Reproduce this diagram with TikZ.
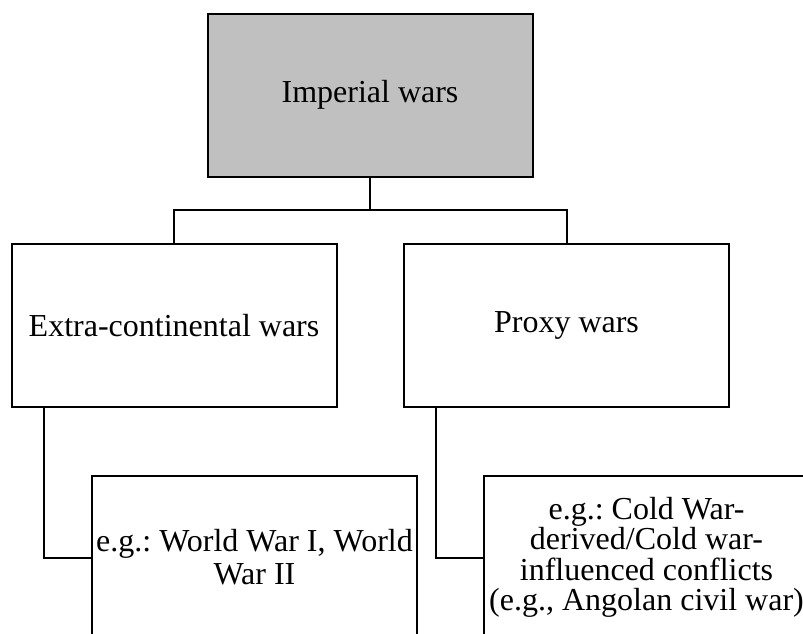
\documentclass[tikz,border=0pt]{standalone}
\usepackage{fontspec}
\setmainfont{Liberation Serif}
\frenchspacing
\begin{document}
\begin{tikzpicture}[x=1pt,y=-1pt,
  box/.style={draw=black,line width=2pt,rectangle,minimum width=325pt,minimum height=163pt,inner sep=0pt,align=center,font=\fontsize{32}{32}\selectfont},
  conn/.style={draw=black,line width=2pt}]
\useasboundingbox (0,0) rectangle (803,633);
\node[box,fill={rgb,255:red,192;green,192;blue,192}] (top) at (370,95) {Imperial wars};
\node[box] (left) at (174,325.5) {Extra-continental wars};
\node[box] (right) at (566.5,325.5) {Proxy wars};
\node[box,font=\fontsize{32}{33}\selectfont] (bl) at (254.5,557.5) {e.g.: World War I, World\\War II};
\node[box,font=\fontsize{32}{30.5}\selectfont] (br) at (646.5,557.5) {e.g.: Cold War-\\derived/Cold war-\\influenced conflicts\\(e.g., Angolan civil war)};
\coordinate (j) at (370,210);
\draw[conn] (top.south) -- (j);
\draw[conn] (j) -| (left.north);
\draw[conn] (j) -| (right.north);
\draw[conn] ([xshift=33pt]left.south west) |- (bl.west);
\draw[conn] ([xshift=33pt]right.south west) |- (br.west);
\end{tikzpicture}
\end{document}
